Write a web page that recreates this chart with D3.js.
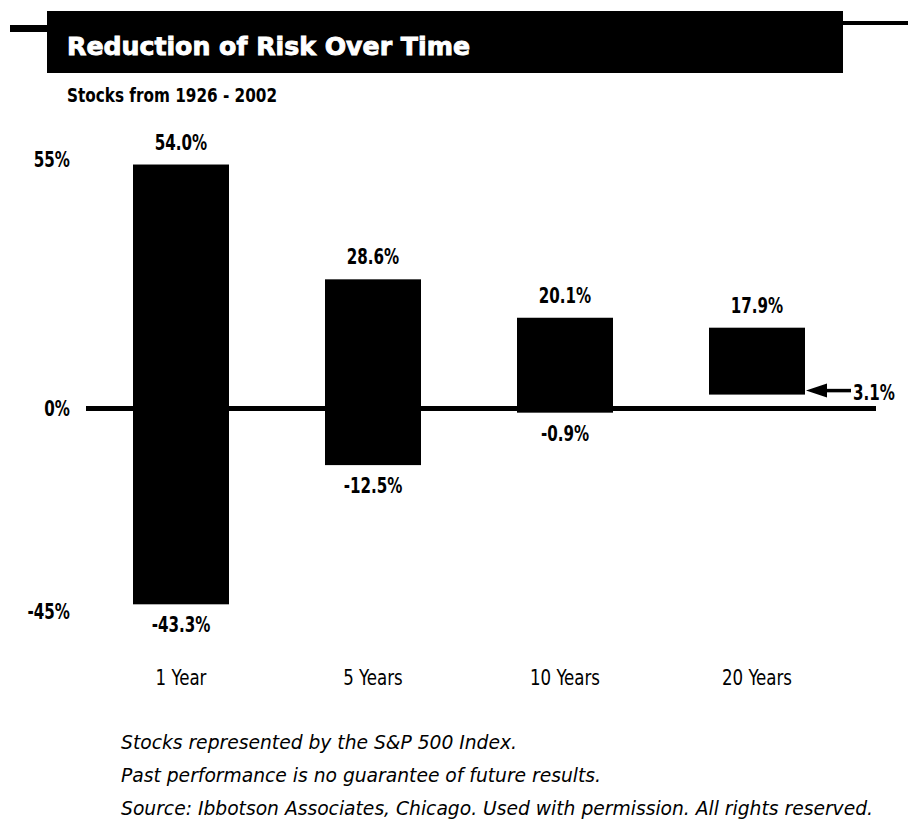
<!DOCTYPE html>
<html>
<head>
<meta charset="utf-8">
<script src="https://cdn.jsdelivr.net/npm/d3@7/dist/d3.min.js"></script>
<style>
  html, body { margin: 0; padding: 0; background: #fff; }
  svg { display: block; }
  .narrow { font-family: "Liberation Sans Narrow", "DejaVu Sans Condensed", "Liberation Sans", sans-serif; }
</style>
</head>
<body>
<svg id="chart" width="908" height="824"></svg>
<script>
// Holding period categories and the best / worst annual returns for each
const categories = ["1 Year", "5 Years", "10 Years", "20 Years"];
const bestReturns = [54.0, 28.6, 20.1, 17.9];
const worstReturns = [-43.3, -12.5, -0.9, 3.1];
const yTickValues = [55, 0, -45];
const titleText = "Reduction of Risk Over Time";
const subtitleText = "Stocks from 1926 - 2002";
const notes = [
  "Stocks represented by the S&P 500 Index.",
  "Past performance is no guarantee of future results.",
  "Source: Ibbotson Associates, Chicago. Used with permission. All rights reserved."
];

const rows = categories.map((c, i) => ({ cat: c, high: bestReturns[i], low: worstReturns[i] }));
const pct = v => (v < 0 ? "-" : "") + Math.abs(v).toFixed(1) + "%";
const tickPct = v => (v < 0 ? "-" : "") + Math.abs(v) + "%";

// Squeeze text horizontally to get a condensed-face look
function condense(sel, factor) {
  sel.each(function () {
    const w = this.getComputedTextLength();
    d3.select(this).attr("textLength", w * factor).attr("lengthAdjust", "spacingAndGlyphs");
  });
}

const svg = d3.select("#chart");

// Header: rule across the top with a black title block
svg.append("rect").attr("x", 10).attr("y", 25).attr("width", 40).attr("height", 7).attr("fill", "#000");
svg.append("rect").attr("x", 840).attr("y", 21).attr("width", 68).attr("height", 4).attr("fill", "#000");
svg.append("rect").attr("x", 47).attr("y", 11).attr("width", 796).attr("height", 62).attr("fill", "#000");
svg.append("text")
  .attr("x", 67).attr("y", 55)
  .attr("fill", "#fff")
  .attr("stroke", "#fff").attr("stroke-width", 0.9)
  .attr("font-family", "'DejaVu Sans', sans-serif")
  .attr("font-weight", 900)
  .attr("font-size", 25)
  .attr("textLength", 403)
  .attr("lengthAdjust", "spacingAndGlyphs")
  .text(titleText);

svg.append("text")
  .attr("class", "narrow")
  .attr("x", 67).attr("y", 102)
  .attr("font-size", 20).attr("font-weight", 700)
  .attr("textLength", 210)
  .attr("lengthAdjust", "spacingAndGlyphs")
  .text(subtitleText);

// Scales
const x = d3.scaleBand()
  .domain(categories)
  .range([85, 853])
  .paddingInner(0.5)
  .paddingOuter(0.25);

const y = d3.scaleLinear()
  .domain([-45, 55])
  .range([612, 160]);

// Y axis: percentage labels only
const yAxis = svg.append("g")
  .attr("transform", "translate(70,0)")
  .call(d3.axisLeft(y).tickValues(yTickValues).tickSize(0).tickPadding(0).tickFormat(tickPct));
yAxis.select(".domain").remove();
yAxis.selectAll("text")
  .attr("class", "narrow")
  .attr("font-size", 21)
  .attr("font-weight", 700)
  .attr("fill", "#000")
  .call(condense, 0.8);

// Range bars from worst to best return
const barG = svg.append("g");
barG.selectAll("rect")
  .data(rows)
  .join("rect")
  .attr("x", d => x(d.cat))
  .attr("width", x.bandwidth())
  .attr("y", d => y(Math.max(d.high, 0, d.low)))
  .attr("height", d => Math.abs(y(d.low) - y(d.high)))
  .attr("fill", "#000");

// Zero baseline
svg.append("line")
  .attr("x1", 86).attr("x2", 876)
  .attr("y1", y(0)).attr("y2", y(0))
  .attr("stroke", "#000").attr("stroke-width", 5);

// Best-return labels above each bar
svg.append("g").selectAll("text")
  .data(rows)
  .join("text")
  .attr("class", "narrow")
  .attr("x", d => x(d.cat) + x.bandwidth() / 2)
  .attr("y", d => y(d.high) - 15)
  .attr("text-anchor", "middle")
  .attr("font-size", 21).attr("font-weight", 700)
  .text(d => pct(d.high))
  .call(condense, 0.8);

// Worst-return labels below the bars that cross zero
const below = rows.filter(d => d.low <= 0);
svg.append("g").selectAll("text")
  .data(below)
  .join("text")
  .attr("class", "narrow")
  .attr("x", d => x(d.cat) + x.bandwidth() / 2)
  .attr("y", d => y(d.low) + 28)
  .attr("text-anchor", "middle")
  .attr("font-size", 21).attr("font-weight", 700)
  .text(d => pct(d.low))
  .call(condense, 0.8);

// Floating bar: arrow pointing back at its positive worst return
rows.filter(d => d.low > 0).forEach(d => {
  const xr = x(d.cat) + x.bandwidth();
  const yy = y(d.low) - 4;
  svg.append("line")
    .attr("x1", xr + 18).attr("x2", xr + 46)
    .attr("y1", yy).attr("y2", yy)
    .attr("stroke", "#000").attr("stroke-width", 3.5);
  svg.append("path")
    .attr("d", d3.line()([[xr + 1, yy], [xr + 22, yy - 7], [xr + 22, yy + 7]]) + "Z")
    .attr("fill", "#000");
  svg.append("text")
    .attr("class", "narrow")
    .attr("x", xr + 48).attr("y", yy + 9)
    .attr("font-size", 21).attr("font-weight", 700)
    .text(pct(d.low))
    .call(condense, 0.8);
});

// Category labels
svg.append("g").selectAll("text")
  .data(categories)
  .join("text")
  .attr("class", "narrow")
  .attr("x", d => x(d) + x.bandwidth() / 2)
  .attr("y", 685)
  .attr("text-anchor", "middle")
  .attr("font-size", 21)
  .text(d => d)
  .call(condense, 0.88);

// Footnotes: one common horizontal squeeze so the longest line spans the block
const noteSel = svg.append("g").selectAll("text")
  .data(notes)
  .join("text")
  .attr("class", "narrow")
  .attr("x", 121)
  .attr("y", (d, i) => 749 + i * 33)
  .attr("font-size", 20)
  .attr("font-style", "italic")
  .text(d => d);
const longest = d3.max(noteSel.nodes(), n => n.getComputedTextLength());
condense(noteSel, 752 / longest);
</script>
</body>
</html>
